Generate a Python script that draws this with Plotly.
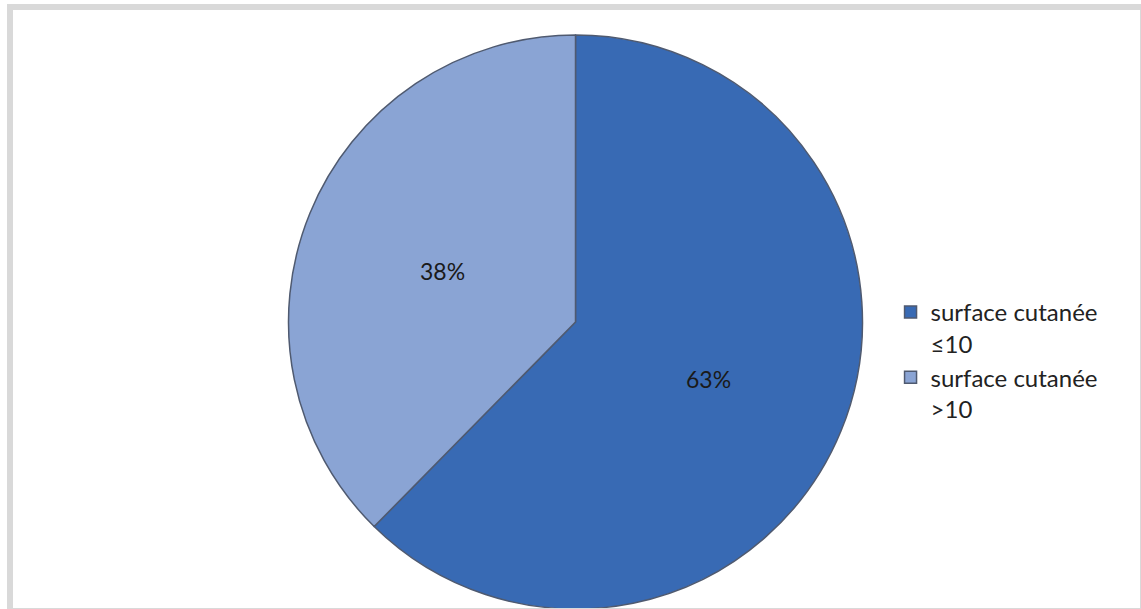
import math
import plotly.graph_objects as go

# Share of patients by affected skin surface
labels = ["surface cutanée<br>≤10", "surface cutanée<br>>10"]
values = [63, 38]
colors = ["#386ab4", "#8aa4d4"]

W, H = 1141, 609
TOP = 35                      # top margin in px
R = (H - TOP) / 2             # pie radius in px
CX = 575.5                    # pie centre, px from the left
CY = TOP + R                  # pie centre, px from the top

fig = go.Figure(
    go.Pie(
        labels=labels,
        values=values,
        sort=False,
        direction="clockwise",
        rotation=0,
        marker=dict(colors=colors, line=dict(color="#4f5a70", width=1.5)),
        textinfo="none",
        hoverinfo="label+percent",
        domain=dict(x=[(CX - R) / W, (CX + R) / W], y=[0, 1]),
    )
)

# Value labels placed halfway along each slice's bisector
total = sum(values)
start = 0.0
for v in values:
    mid = (start + v / 2) / total * 2 * math.pi
    px = CX + 0.5 * R * math.sin(mid)
    py = CY - 0.5 * R * math.cos(mid) + 3
    fig.add_annotation(
        x=px / W, y=(H - py) / (H - TOP), xref="paper", yref="paper",
        text=f"{v}%", showarrow=False,
        font=dict(family="Lato", size=23, color="#1a1a1a"),
    )
    start += v

# Light grey frame around the chart
fig.add_shape(
    type="rect", xref="paper", yref="paper",
    x0=10 / W, x1=1143 / W, y0=(H - 611) / (H - TOP), y1=(H - 7) / (H - TOP),
    line=dict(color="#d9d9d9", width=6), fillcolor="rgba(0,0,0,0)", layer="above",
)

fig.update_layout(
    width=W, height=H,
    margin=dict(l=0, r=0, t=TOP, b=0),
    paper_bgcolor="white", plot_bgcolor="white",
    showlegend=True,
    legend=dict(
        x=0.7805, y=0.556, xanchor="left", yanchor="top",
        valign="top", itemwidth=30, tracegroupgap=0,
        font=dict(family="Lato", size=24, color="#222222"),
        bgcolor="rgba(0,0,0,0)",
    ),
)

fig.write_html("out.html")
